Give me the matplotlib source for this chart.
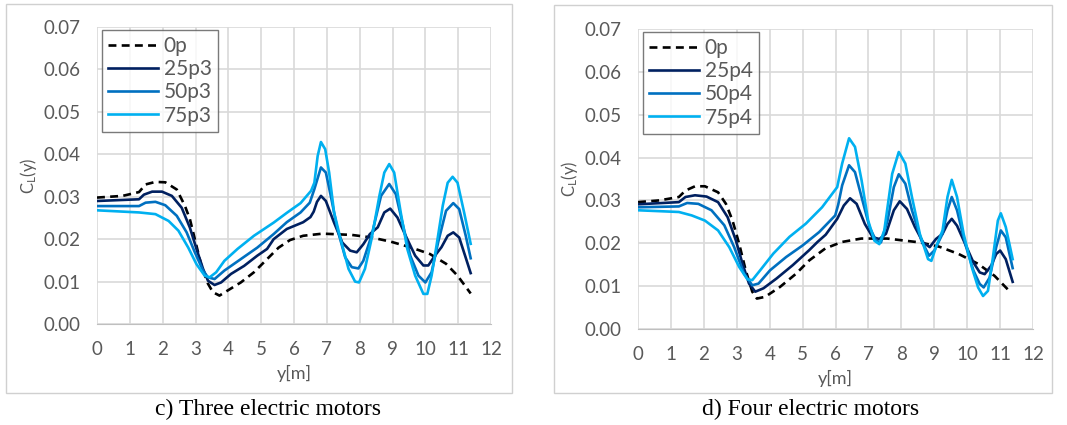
import matplotlib.pyplot as plt
from matplotlib.patches import Rectangle

plt.rcParams['font.family'] = ['Lato', 'DejaVu Sans']
plt.rcParams['mathtext.default'] = 'regular'

# ---- c) three electric motors ----
xc_0p = [0, 0.78, 1.28, 1.48, 1.78, 2.08, 2.43, 2.68, 2.83, 2.98, 3.18, 3.38, 3.53, 3.73, 3.98,
         4.38, 4.78, 5.18, 5.53, 5.88, 6.28, 6.87, 7.76, 8.36, 8.95, 9.54, 10.14, 10.63, 10.98, 11.38]
c_0p = [0.0298, 0.0302, 0.0311, 0.0329, 0.0335, 0.0334, 0.0317, 0.0278, 0.0247, 0.0200, 0.0137,
        0.0095, 0.0075, 0.0067, 0.0079, 0.0098, 0.0122, 0.0153, 0.0180, 0.0198, 0.0208, 0.0213,
        0.0210, 0.0204, 0.0194, 0.0181, 0.0165, 0.0142, 0.0114, 0.0072]

xc_25 = [0, 1.28, 1.43, 1.68, 1.98, 2.28, 2.58, 2.83, 3.03, 3.23, 3.38, 3.58, 3.78, 4.08, 4.48,
         4.88, 5.18, 5.38, 5.78, 6.28, 6.5, 6.6, 6.7, 6.82, 6.97, 7.22, 7.47, 7.71, 7.91, 8.11,
         8.31, 8.55, 8.75, 8.93, 9.15, 9.4, 9.69, 9.94, 10.09, 10.29, 10.49, 10.68, 10.85, 11.03,
         11.21, 11.38]
c_25 = [0.0290, 0.0294, 0.0305, 0.0312, 0.0312, 0.0302, 0.0274, 0.0227, 0.0177, 0.0130, 0.0102,
        0.0092, 0.0098, 0.0118, 0.0137, 0.0161, 0.0177, 0.0200, 0.0224, 0.0240, 0.0252, 0.0265,
        0.0288, 0.0302, 0.0290, 0.0239, 0.0192, 0.0173, 0.0169, 0.0188, 0.0212, 0.0228, 0.0263,
        0.0272, 0.0251, 0.0208, 0.0161, 0.0138, 0.0138, 0.0161, 0.0181, 0.0208, 0.0216, 0.0204,
        0.0161, 0.0120]

xc_50 = [0, 1.28, 1.48, 1.78, 2.08, 2.43, 2.73, 2.98, 3.23, 3.38, 3.58, 3.88, 4.38, 4.88, 5.38,
         5.78, 6.2, 6.48, 6.62, 6.82, 6.97, 7.12, 7.32, 7.56, 7.76, 7.96, 8.11, 8.36, 8.65, 8.9,
         9.1, 9.3, 9.54, 9.79, 10.0, 10.19, 10.39, 10.63, 10.85, 11.03, 11.23, 11.38]
c_50 = [0.0278, 0.0278, 0.0286, 0.0288, 0.0280, 0.0255, 0.0216, 0.0169, 0.0126, 0.0110, 0.0106,
        0.0126, 0.0153, 0.0180, 0.0212, 0.0240, 0.0263, 0.0286, 0.0318, 0.0369, 0.0357, 0.0302,
        0.0224, 0.0157, 0.0134, 0.0131, 0.0149, 0.0208, 0.0302, 0.0330, 0.0306, 0.0239, 0.0161,
        0.0114, 0.0098, 0.0122, 0.0193, 0.0267, 0.0285, 0.0271, 0.0208, 0.0155]

xc_75 = [0, 1.28, 1.78, 2.18, 2.48, 2.78, 3.03, 3.28, 3.43, 3.63, 3.88, 4.28, 4.78, 5.38, 5.78,
         6.2, 6.52, 6.62, 6.72, 6.82, 6.95, 7.07, 7.22, 7.42, 7.66, 7.86, 7.98, 8.16, 8.36, 8.6,
         8.75, 8.9, 9.05, 9.25, 9.45, 9.69, 9.94, 10.06, 10.19, 10.34, 10.53, 10.68, 10.83, 10.98,
         11.18, 11.38]
c_75 = [0.0268, 0.0263, 0.0259, 0.0243, 0.0220, 0.0180, 0.0141, 0.0114, 0.0110, 0.0122, 0.0149,
        0.0177, 0.0208, 0.0239, 0.0262, 0.0285, 0.0314, 0.0333, 0.0396, 0.0429, 0.0412, 0.0357,
        0.0263, 0.0200, 0.0130, 0.0100, 0.0098, 0.0130, 0.0200, 0.0302, 0.0357, 0.0377, 0.0357,
        0.0263, 0.0177, 0.0114, 0.0071, 0.0071, 0.0114, 0.0185, 0.0279, 0.0333, 0.0347, 0.0333,
        0.0263, 0.0189]

# ---- d) four electric motors ----
xd_0p = [0, 0.64, 1.24, 1.44, 1.73, 2.03, 2.43, 2.67, 2.87, 3.07, 3.27, 3.47, 3.61, 3.86, 4.31,
         4.8, 5.2, 5.69, 6.19, 6.78, 7.57, 8.56, 9.15, 9.74, 10.33, 10.83, 11.3]
d_0p = [0.0296, 0.0300, 0.0308, 0.0323, 0.0333, 0.0333, 0.0319, 0.0292, 0.0253, 0.0199, 0.0137,
        0.0087, 0.0071, 0.0075, 0.0098, 0.0129, 0.0160, 0.0188, 0.0203, 0.0211, 0.0211, 0.0202,
        0.0192, 0.0175, 0.0152, 0.0124, 0.0087]

xd_25 = [0, 1.24, 1.44, 1.73, 2.08, 2.43, 2.72, 2.97, 3.17, 3.37, 3.56, 3.81, 4.21, 4.7, 5.2,
         5.45, 5.7, 6.05, 6.25, 6.44, 6.64, 6.89, 7.13, 7.33, 7.53, 7.77, 7.95, 8.17, 8.41, 8.66,
         8.86, 9.05, 9.25, 9.4, 9.53, 9.69, 9.94, 10.19, 10.38, 10.53, 10.73, 10.88, 11.0, 11.17,
         11.38]
d_25 = [0.0291, 0.0296, 0.0308, 0.0312, 0.0309, 0.0296, 0.0261, 0.0207, 0.0153, 0.0106, 0.0087,
        0.0095, 0.0118, 0.0149, 0.0184, 0.0203, 0.0220, 0.0257, 0.0288, 0.0305, 0.0292, 0.0245,
        0.0214, 0.0210, 0.0222, 0.0277, 0.0298, 0.0280, 0.0238, 0.0202, 0.0191, 0.0210, 0.0222,
        0.0245, 0.0257, 0.0241, 0.0198, 0.0155, 0.0132, 0.0128, 0.0148, 0.0175, 0.0183, 0.0163,
        0.0110]

xd_50 = [0, 1.24, 1.49, 1.83, 2.23, 2.62, 2.92, 3.22, 3.47, 3.66, 4.01, 4.5, 5.0, 5.5, 5.99,
         6.08, 6.2, 6.41, 6.59, 6.79, 7.03, 7.23, 7.38, 7.58, 7.77, 7.92, 8.12, 8.32, 8.61, 8.84,
         9.0, 9.25, 9.4, 9.53, 9.69, 9.94, 10.19, 10.38, 10.5, 10.68, 10.88, 11.02, 11.17, 11.38]
d_50 = [0.0284, 0.0286, 0.0294, 0.0292, 0.0277, 0.0242, 0.0191, 0.0129, 0.0102, 0.0106, 0.0137,
        0.0168, 0.0195, 0.0226, 0.0265, 0.0290, 0.0335, 0.0382, 0.0366, 0.0308, 0.0238, 0.0206,
        0.0202, 0.0253, 0.0331, 0.0361, 0.0339, 0.0277, 0.0206, 0.0171, 0.0183, 0.0222, 0.0277,
        0.0308, 0.0277, 0.0198, 0.0136, 0.0105, 0.0097, 0.0120, 0.0191, 0.0230, 0.0214, 0.0142]

xd_75 = [0, 1.24, 1.63, 2.03, 2.43, 2.77, 3.07, 3.32, 3.47, 3.71, 4.11, 4.6, 5.1, 5.59, 6.05,
         6.2, 6.41, 6.59, 6.79, 6.99, 7.18, 7.33, 7.48, 7.72, 7.92, 8.12, 8.32, 8.56, 8.81, 8.91,
         9.05, 9.25, 9.4, 9.53, 9.69, 9.89, 10.14, 10.33, 10.48, 10.63, 10.78, 10.93, 11.02, 11.17,
         11.38]
d_75 = [0.0277, 0.0273, 0.0265, 0.0253, 0.0230, 0.0191, 0.0145, 0.0116, 0.0114, 0.0137, 0.0176,
        0.0215, 0.0246, 0.0284, 0.0331, 0.0386, 0.0445, 0.0425, 0.0347, 0.0253, 0.0206, 0.0198,
        0.0230, 0.0362, 0.0413, 0.0386, 0.0308, 0.0222, 0.0163, 0.0159, 0.0191, 0.0230, 0.0308,
        0.0348, 0.0308, 0.0222, 0.0144, 0.0097, 0.0077, 0.0089, 0.0167, 0.0253, 0.0270, 0.0238,
        0.0163]

colors = ['#002060', '#0070c0', '#00b0f0']
gray = '#595959'
yticks = [0.0, 0.01, 0.02, 0.03, 0.04, 0.05, 0.06, 0.07]
ytick_labels = ['0.00', '0.01', '0.02', '0.03', '0.04', '0.05', '0.06', '0.07']

fig = plt.figure(figsize=(10.67, 4.25), dpi=100)

# outer frames of both panels
fig.patches.append(Rectangle((6/1067, 1-393/425), 506/1067, 389/425, transform=fig.transFigure,
                             fill=False, edgecolor='#d0d0d0', linewidth=1))
fig.patches.append(Rectangle((554/1067, 1-393/425), 498/1067, 388/425, transform=fig.transFigure,
                             fill=False, edgecolor='#d0d0d0', linewidth=1))

panels = [
    ([0.0909, 0.2376, 0.3693, 0.6988], (xc_0p, c_0p), [(xc_25, c_25), (xc_50, c_50), (xc_75, c_75)],
     'p3', 'c) Three electric motors', 268),
    ([0.5980, 0.2259, 0.3702, 0.7059], (xd_0p, d_0p), [(xd_25, d_25), (xd_50, d_50), (xd_75, d_75)],
     'p4', 'd) Four electric motors', 811),
]

for rect, base, series, suf, cap, capx in panels:
    ax = fig.add_axes(rect)
    ax.plot(base[0], base[1], color='black', linestyle=(0, (3.0, 2.0)), linewidth=1.9,
            label='0p', zorder=3)
    for (xs, ys), col, lab in zip(series, colors, ['25', '50', '75']):
        ax.plot(xs, ys, color=col, linewidth=1.9, label=lab + suf, zorder=3)
    ax.set_xlim(0, 12)
    ax.set_ylim(0, 0.07)
    ax.set_xticks(range(0, 13))
    ax.set_yticks(yticks)
    ax.set_yticklabels(ytick_labels)
    ax.grid(True, color='#d9d9d9', linewidth=1.2, zorder=0)
    ax.set_axisbelow(True)
    for s in ['top', 'right', 'left']:
        ax.spines[s].set_visible(False)
    ax.spines['bottom'].set_color('#bfbfbf')
    ax.tick_params(length=0, pad=12, labelsize=13.5, colors=gray)
    ax.set_xlabel('y[m]', fontsize=13, color=gray, labelpad=5)
    ax.set_ylabel('C$_L$(y)', fontsize=12, color=gray, labelpad=3)
    leg = ax.legend(loc='upper left', bbox_to_anchor=(0.013, 0.99), fontsize=15, frameon=True,
                    fancybox=False, handlelength=2.4, borderpad=0.3, labelspacing=0.15,
                    handletextpad=0.25, borderaxespad=0)
    leg.get_frame().set_edgecolor(gray)
    leg.get_frame().set_linewidth(1)
    for t in leg.get_texts():
        t.set_color(gray)
    fig.text(capx/1067, 1-409/425, cap, ha='center', va='center', fontsize=17,
             family='Liberation Serif', color='black')

fig.savefig('out.png', dpi=100)
